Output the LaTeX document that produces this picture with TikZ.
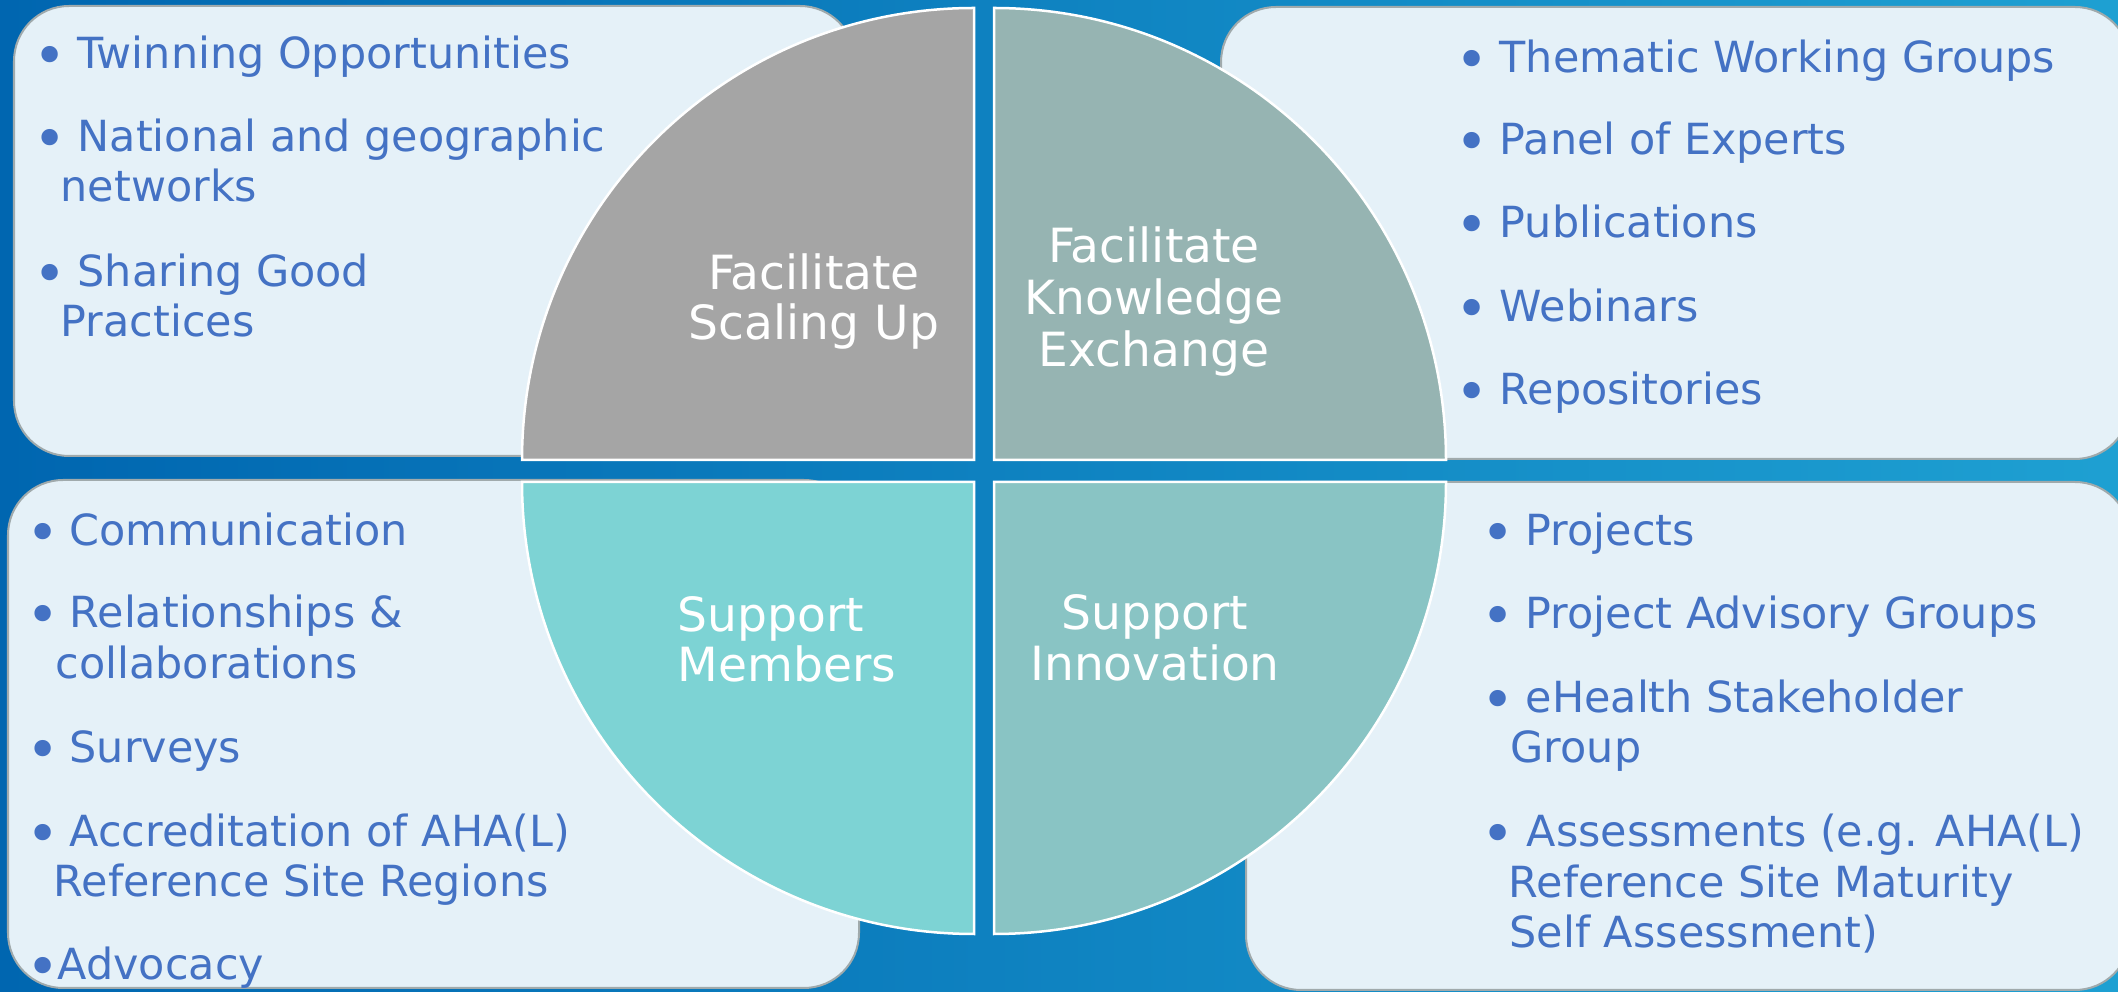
\documentclass[tikz,border=0pt]{standalone}
\usepackage{fontspec}
\setmainfont{DejaVu Sans}
\definecolor{txtblue}{RGB}{68,114,196}
\definecolor{boxfill}{RGB}{229,241,248}
\definecolor{boxline}{RGB}{160,170,172}
\definecolor{qgray}{RGB}{165,165,165}
\definecolor{qtealgray}{RGB}{150,180,178}
\definecolor{qturq}{RGB}{125,211,212}
\definecolor{qteal}{RGB}{137,196,196}
\definecolor{bgleft}{RGB}{0,102,176}
\definecolor{bgmid}{RGB}{8,114,184}
\definecolor{bgright}{RGB}{30,160,210}
\newcommand\bitem[5]{\node[bulmark] (#1-b) at (#2,-#4) {\raisebox{-0.065cm}{•}}; \node[itm] (#1) at (#3,-#4) {#5};}
\newcommand\contline[4]{\node[itm] (#1) at (#2,-#3) {#4};}
\begin{document}
\begin{tikzpicture}[x=0.01cm,y=0.01cm,
  infobox/.style={fill=boxfill, draw=boxline, line width=0.02cm, rounded corners=0.55cm},
  quad/.style={draw=white, line width=0.025cm},
  itm/.style={anchor=base west, inner sep=0, text=txtblue, font=\fontsize{12.2}{14}\selectfont},
  bulmark/.style={anchor=base west, inner sep=0, text=txtblue, font=\fontsize{16}{16}\selectfont},
  lbl/.style={anchor=base, inner sep=0, text=white, font=\fontsize{13.4}{15}\selectfont},
  lbll/.style={lbl, anchor=base west},
]
\useasboundingbox (0,0) rectangle (2118,-992);
\clip (0,0) rectangle (2118,-992);
\shade[left color=bgleft, middle color=bgmid, right color=bgright] (0,0) rectangle (2118,-992);

% info boxes
\draw[infobox] (14,-6) rectangle (855,-456);
\draw[infobox] (1221,-7) rectangle (2130,-459);
\draw[infobox] (8,-480) rectangle (859,-988);
\draw[infobox] (1246,-482) rectangle (2130,-990);

% quadrants
\draw[quad, fill=qgray] (974,-460) -- (522,-460) arc[start angle=180,end angle=90,radius=452] -- cycle;
\draw[quad, fill=qtealgray] (994,-460) -- (994,-8) arc[start angle=90,end angle=0,radius=452] -- cycle;
\draw[quad, fill=qturq] (974,-482) -- (974,-934) arc[start angle=270,end angle=180,radius=452] -- cycle;
\draw[quad, fill=qteal] (994,-482) -- (1446,-482) arc[start angle=0,end angle=-90,radius=452] -- cycle;

% quadrant labels
\node[lbl] (fsu1) at (814,-290) {Facilitate};
\node[lbl] (fsu2) at (814,-340) {Scaling Up};
\node[lbl] (fke1) at (1154,-263) {Facilitate};
\node[lbl] (fke2) at (1154,-315) {Knowledge};
\node[lbl] (fke3) at (1154,-367) {Exchange};
\node[lbll] (sm1) at (677,-632) {Support};
\node[lbll] (sm2) at (677,-682) {Members};
\node[lbl] (si1) at (1155,-630) {Support};
\node[lbl] (si2) at (1155,-681) {Innovation};

% top-left list
\bitem{tw}{33}{77}{69}{Twinning Opportunities}
\bitem{na}{33}{77}{152}{National and geographic}
\contline{na2}{60}{202}{networks}
\bitem{sh}{33}{77}{287}{Sharing Good}
\contline{sh2}{60}{337}{Practices}

% top-right list
\bitem{th}{1455}{1499}{73}{Thematic Working Groups}
\bitem{pe}{1455}{1499}{155}{Panel of Experts}
\bitem{pu}{1455}{1499}{238}{Publications}
\bitem{we}{1455}{1499}{322}{Webinars}
\bitem{re}{1455}{1499}{405}{Repositories}

% bottom-left list
\bitem{co}{26}{69}{546}{Communication}
\bitem{rl}{26}{69}{628}{Relationships \&}
\contline{rl2}{55}{679}{collaborations}
\bitem{su}{26}{69}{763}{Surveys}
\bitem{ac}{26}{69}{847}{Accreditation of AHA(L)}
\contline{ac2}{53}{897}{Reference Site Regions}
\bitem{ad}{26}{57}{980}{Advocacy}

% bottom-right list
\bitem{pr}{1481}{1525}{546}{Projects}
\bitem{pa}{1481}{1525}{629}{Project Advisory Groups}
\bitem{eh}{1481}{1525}{713}{eHealth Stakeholder}
\contline{eh2}{1510}{763}{Group}
\bitem{as}{1481}{1526}{847}{Assessments (e.g. AHA(L)}
\contline{as2}{1508}{898}{Reference Site Maturity}
\contline{as3}{1509}{948}{Self Assessment)}
\end{tikzpicture}
\end{document}
